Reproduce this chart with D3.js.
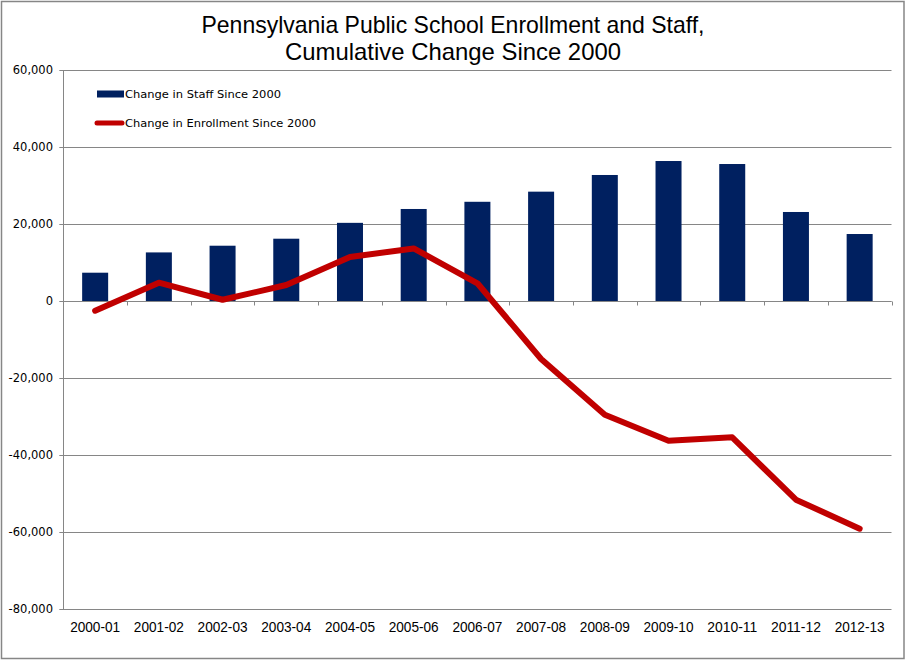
<!DOCTYPE html>
<meta charset="utf-8">
<style>
body { margin: 0; background: #fff; }
.grid line { stroke: #868686; stroke-width: 1px; }
.ylab text { font-family: "DejaVu Sans", Verdana, sans-serif; font-size: 11.5px; fill: #000; }
.xlab text { font-family: "Liberation Sans Narrow", "Liberation Sans", Arial, sans-serif; font-size: 14px; fill: #000; }
.title { font-family: "Liberation Sans Narrow", "Liberation Sans", Arial, sans-serif; font-size: 24px; fill: #000; }
.legend text { font-family: "DejaVu Sans", Verdana, sans-serif; font-size: 10.5px; fill: #000; }
</style>
<body>
<script src="https://cdn.jsdelivr.net/npm/d3@7"></script>
<script>

// chart data
var years = ["2000-01", "2001-02", "2002-03", "2003-04", "2004-05", "2005-06", "2006-07",
             "2007-08", "2008-09", "2009-10", "2010-11", "2011-12", "2012-13"];
var staffChange = [7350, 12620, 14360, 16180, 20300, 23900, 25770, 28400, 32730, 36360, 35580, 23120, 17400];
var enrollChange = [-2530, 4750, 330, 4150, 11430, 13660, 4600, -15060, -29530, -36280, -35420, -51600, -59140];
var yTicks = [-80000, -60000, -40000, -20000, 0, 20000, 40000, 60000];
var titleLines = ["Pennsylvania Public School Enrollment and Staff,", "Cumulative Change Since 2000"];
var legendLabels = ["Change in Staff Since 2000", "Change in Enrollment Since 2000"];

var W = 909, H = 661;
var plot = {left: 63.3, right: 891.5, top: 70, bottom: 609};

var svg = d3.select("body").append("svg")
    .attr("width", W)
    .attr("height", H);

// outer frame
svg.append("rect")
    .attr("x", 1.5).attr("y", 1.5)
    .attr("width", 902.5).attr("height", 657)
    .attr("fill", "#fff")
    .attr("stroke", "#868686")
    .attr("stroke-width", 1.5);

var x = d3.scaleBand().domain(years).range([plot.left, plot.right]).padding(0);
var y = d3.scaleLinear().domain([-80000, 60000]).range([plot.bottom, plot.top]);

// title
svg.selectAll(".title")
    .data(titleLines)
  .enter().append("text")
    .attr("class", "title")
    .attr("x", 453)
    .attr("y", function(d, i) { return 33 + i * 27; })
    .attr("text-anchor", "middle")
    .attr("textLength", function(d, i) { return i == 0 ? 503 : 336; })
    .attr("lengthAdjust", "spacingAndGlyphs")
    .text(function(d) { return d; });

// horizontal gridlines
svg.append("g")
    .attr("class", "grid")
    .selectAll("line")
    .data(yTicks)
  .enter().append("line")
    .attr("x1", plot.left - 4)
    .attr("x2", plot.right)
    .attr("y1", function(d) { return Math.round(y(d)) + 0.5; })
    .attr("y2", function(d) { return Math.round(y(d)) + 0.5; });

// y axis line + labels
svg.append("line")
    .attr("x1", Math.round(plot.left) + 0.5).attr("x2", Math.round(plot.left) + 0.5)
    .attr("y1", y(60000)).attr("y2", y(-80000))
    .attr("stroke", "#868686");

var fmt = d3.format(",");
svg.append("g")
    .attr("class", "ylab")
    .selectAll("text")
    .data(yTicks)
  .enter().append("text")
    .attr("x", 53)
    .attr("y", function(d) { return y(d); })
    .attr("dy", "0.35em")
    .attr("text-anchor", "end")
    .text(function(d) { return fmt(d).replace("\u2212", "-"); });

// bars
var barW = x.bandwidth() / 2.45;
svg.append("g")
    .selectAll("rect")
    .data(staffChange)
  .enter().append("rect")
    .attr("x", function(d, i) { return x(years[i]) + x.bandwidth() / 2 - barW / 2; })
    .attr("width", barW)
    .attr("y", function(d) { return y(d); })
    .attr("height", function(d) { return y(0) - y(d); })
    .attr("fill", "#002060");

// x axis at zero with ticks between categories
var zeroY = Math.round(y(0)) + 0.5;
svg.append("line")
    .attr("x1", plot.left).attr("x2", plot.right)
    .attr("y1", zeroY).attr("y2", zeroY)
    .attr("stroke", "#868686");

svg.append("g")
    .selectAll("line")
    .data(years.concat(["end"]))
  .enter().append("line")
    .attr("x1", function(d, i) { return Math.round(plot.left + i * x.bandwidth()) + 0.5; })
    .attr("x2", function(d, i) { return Math.round(plot.left + i * x.bandwidth()) + 0.5; })
    .attr("y1", zeroY)
    .attr("y2", zeroY + 4)
    .attr("stroke", "#868686");

// category labels at the bottom
svg.append("g")
    .attr("class", "xlab")
    .selectAll("text")
    .data(years)
  .enter().append("text")
    .attr("x", function(d) { return x(d) + x.bandwidth() / 2; })
    .attr("y", 632)
    .attr("text-anchor", "middle")
    .attr("textLength", 50)
    .attr("lengthAdjust", "spacingAndGlyphs")
    .text(function(d) { return d; });

// enrollment line
var line = d3.line()
    .x(function(d, i) { return x(years[i]) + x.bandwidth() / 2; })
    .y(function(d) { return y(d); });

svg.append("path")
    .datum(enrollChange)
    .attr("d", line)
    .attr("fill", "none")
    .attr("stroke", "#C00000")
    .attr("stroke-width", 6)
    .attr("stroke-linejoin", "round")
    .attr("stroke-linecap", "round");

// legend
var legend = svg.append("g").attr("class", "legend");

legend.append("rect")
    .attr("x", 97).attr("y", 90.5)
    .attr("width", 27).attr("height", 7)
    .attr("fill", "#002060");

legend.append("line")
    .attr("x1", 97).attr("x2", 122)
    .attr("y1", 123).attr("y2", 123)
    .attr("stroke", "#C00000")
    .attr("stroke-width", 5)
    .attr("stroke-linecap", "round");

legend.selectAll("text")
    .data(legendLabels)
  .enter().append("text")
    .attr("x", 125)
    .attr("y", function(d, i) { return 98 + i * 29; })
    .attr("textLength", function(d, i) { return i == 0 ? 156 : 191; })
    .attr("lengthAdjust", "spacingAndGlyphs")
    .text(function(d) { return d; });

</script>
</body>
